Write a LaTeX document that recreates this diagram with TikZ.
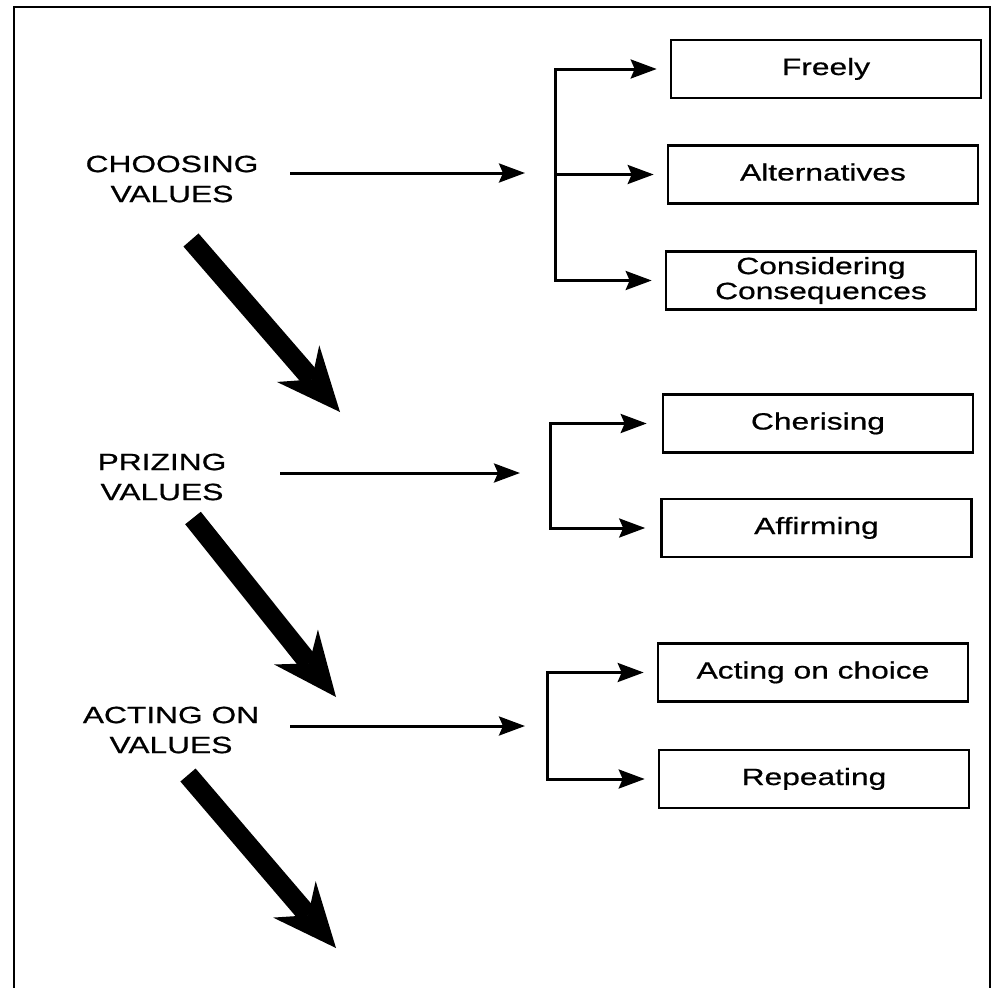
\documentclass[tikz,border=0pt]{standalone}
\usepackage{fontspec}
\newfontfamily\diagfont[FakeStretch=1.35,FakeBold=0.7]{Liberation Sans}
\usetikzlibrary{arrows.meta}
\begin{document}
\begin{tikzpicture}[x=1pt,y=-1pt,
  every node/.style={font=\diagfont\fontsize{23.5}{30}\selectfont, inner sep=0pt},
  lbl/.style={align=center},
  vbox/.style={draw, line width=2.6pt, minimum width=310pt, minimum height=58pt, align=center,
    font=\diagfont\fontsize{23.5}{25}\selectfont},
  oneline/.style={text height=17pt, text depth=5pt},
  thinline/.style={line width=3pt, line cap=rect},
  tarrow/.style={line width=3pt, -{Stealth[length=26pt,width=19pt,inset=4pt]}},
  bigarrow/.style={line width=20pt, -{Stealth[length=64pt,width=56pt,inset=21pt,line width=0pt]}}
]
\useasboundingbox (0,0) rectangle (999,988);
\fill[white] (0,0) rectangle (999,988);
% frame
\draw[line width=2.4pt] (14,988) -- (14,7) -- (990,7) -- (990,988);

% stage labels
\node[lbl] (choose) at (172,179) {CHOOSING\\VALUES};
\node[lbl] (prize) at (162,477) {PRIZING\\VALUES};
\node[lbl] (act) at (171,730) {ACTING ON\\VALUES};

% boxes
\node[vbox,oneline] (freely) at (826,69) {Freely};
\node[vbox,oneline] (alt) at (823,174.5) {Alternatives};
\node[vbox] (cons) at (821,280.5) {Considering\\Consequences};
\node[vbox,oneline] (cher) at (818,423.5) {Cherising};
\node[vbox,oneline] (aff) at (816.5,528) {Affirming};
\node[vbox,oneline] (acho) at (813,672.5) {Acting on choice};
\node[vbox,oneline] (rep) at (814,779) {Repeating};

% choosing connectors
\coordinate (c1a) at (290,173);
\coordinate (c1b) at (525,173);
\draw[tarrow] (c1a) -- (c1b);
\coordinate (b1t) at (555,69);
\coordinate (b1b) at (555,280.5);
\draw[thinline] (b1t) -- (b1b);
\draw[tarrow, shorten >=13pt] (b1t) -- (freely.west);
\draw[tarrow, shorten >=13pt] (b1t |- alt.west) -- (alt.west);
\draw[tarrow, shorten >=13pt] (b1b) -- (cons.west);

% prizing connectors
\coordinate (c2a) at (280,473);
\coordinate (c2b) at (520,473);
\draw[tarrow] (c2a) -- (c2b);
\coordinate (b2t) at (550,423.5);
\coordinate (b2b) at (550,528);
\draw[thinline] (b2t) -- (b2b);
\draw[tarrow, shorten >=15pt] (b2t) -- (cher.west);
\draw[tarrow, shorten >=15pt] (b2b) -- (aff.west);

% acting connectors
\coordinate (c3a) at (290,726);
\coordinate (c3b) at (525,726);
\draw[tarrow] (c3a) -- (c3b);
\coordinate (b3t) at (547,672.5);
\coordinate (b3b) at (547,779);
\draw[thinline] (b3t) -- (b3b);
\draw[tarrow, shorten >=13pt] (b3t) -- (acho.west);
\draw[tarrow, shorten >=13pt] (b3b) -- (rep.west);

% big arrows
\coordinate (t1s) at (191,240);
\coordinate (t1e) at (340,412);
\draw[bigarrow] (t1s) -- (t1e);
\coordinate (t2s) at (193,518);
\coordinate (t2e) at (336,697);
\draw[bigarrow] (t2s) -- (t2e);
\coordinate (t3s) at (188,775);
\coordinate (t3e) at (336,948);
\draw[bigarrow] (t3s) -- (t3e);
\end{tikzpicture}
\end{document}
